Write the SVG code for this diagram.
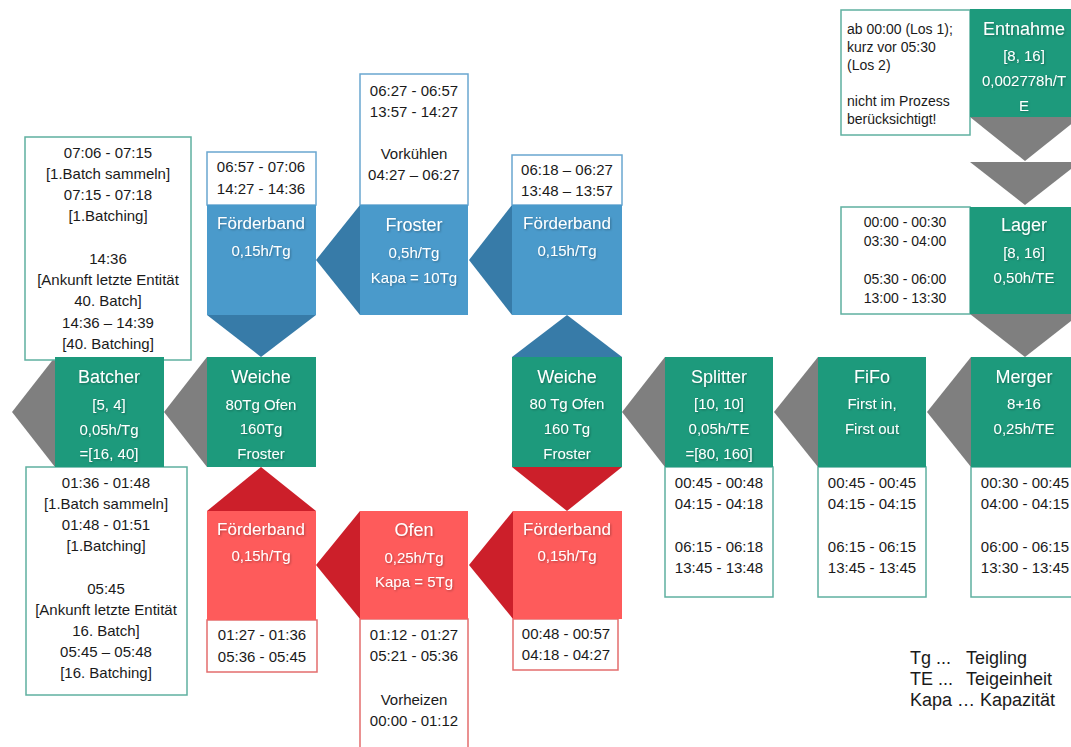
<svg xmlns="http://www.w3.org/2000/svg" width="1071" height="747" viewBox="0 0 1071 747">
  <defs>
    <filter id="txtShadow" x="-10%" y="-30%" width="120%" height="160%">
      <feDropShadow dx="1" dy="1" stdDeviation="0.8" flood-color="#000" flood-opacity="0.3"/>
    </filter>
  </defs>
  <style>
    text { font-family: "Liberation Sans", Arial, sans-serif; }
    .green { fill: #1d9a7c; }
    .blue { fill: #4a9acb; }
    .red { fill: #fe5b5b; }
    .arrGrey { fill: #7f7f7f; }
    .arrBlue { fill: #377ba8; }
    .arrRed { fill: #cc1f2a; }
    .noteG { fill: #ffffff; stroke: #5fb0a0; stroke-width: 1.5; }
    .noteB { fill: #ffffff; stroke: #6aa7d0; stroke-width: 1.5; }
    .noteR { fill: #ffffff; stroke: #e36d6d; stroke-width: 1.5; }
    .ttl { fill: #ffffff; font-size: 18px; text-anchor: middle; filter: url(#txtShadow); }
    .sub { fill: #ffffff; font-size: 15px; text-anchor: middle; filter: url(#txtShadow); }
    .nt { fill: #1a1a1a; font-size: 15px; text-anchor: middle; }
    .nts { fill: #1a1a1a; font-size: 14px; }
    .leg { fill: #1a1a1a; font-size: 18px; }
  </style>

  <rect x="0" y="0" width="1071" height="747" fill="#ffffff"/>

  <!-- flow arrows between the process blocks -->
  <g id="connectors">
    <polygon class="arrGrey" points="970,117 1025,161 1080,117"/>
    <polygon class="arrGrey" points="970,162 1025,205 1080,162"/>
    <polygon class="arrGrey" points="970,314 1025,357 1080,314"/>
    <polygon class="arrGrey" points="971,357 927,412 971,467"/>
    <polygon class="arrGrey" points="818,357 774,412 818,467"/>
    <polygon class="arrGrey" points="665,357 622,412 665,467"/>
    <polygon class="arrBlue" points="512,357 567,315 622,357"/>
    <polygon class="arrBlue" points="512,205 469,260 512,315"/>
    <polygon class="arrBlue" points="360,205 316,260 360,315"/>
    <polygon class="arrBlue" points="207,315 261,357 316,315"/>
    <polygon class="arrRed" points="512,467 567,511 622,467"/>
    <polygon class="arrRed" points="513,511 469,565 513,619"/>
    <polygon class="arrRed" points="360,511 316,565 360,619"/>
    <polygon class="arrRed" points="207,511 261,467 316,511"/>
    <polygon class="arrGrey" points="207,357 164,412 207,467"/>
    <polygon class="arrGrey" points="55,357 12,412 55,467"/>
  </g>

  <g id="entnahme">
    <rect class="noteG" x="841" y="10" width="129" height="125"/>
    <text class="nts" x="847" y="34">ab 00:00 (Los 1);</text>
    <text class="nts" x="847" y="52">kurz vor 05:30</text>
    <text class="nts" x="847" y="70">(Los 2)</text>
    <text class="nts" x="847" y="106">nicht im Prozess</text>
    <text class="nts" x="847" y="124">berücksichtigt!</text>
    <rect class="green" x="970" y="9" width="110" height="108"/>
    <text class="ttl" x="1024" y="35">Entnahme</text>
    <text class="sub" x="1024" y="61">[8, 16]</text>
    <text class="sub" x="1024" y="86">0,002778h/T</text>
    <text class="sub" x="1024" y="111">E</text>
  </g>

  <g id="lager">
    <rect class="noteG" x="841" y="207" width="129" height="107"/>
    <text class="nts" x="905" y="227" text-anchor="middle">00:00 - 00:30</text>
    <text class="nts" x="905" y="246" text-anchor="middle">03:30 - 04:00</text>
    <text class="nts" x="905" y="284" text-anchor="middle">05:30 - 06:00</text>
    <text class="nts" x="905" y="303" text-anchor="middle">13:00 - 13:30</text>
    <rect class="green" x="970" y="207" width="110" height="107"/>
    <text class="ttl" x="1024" y="231">Lager</text>
    <text class="sub" x="1024" y="258">[8, 16]</text>
    <text class="sub" x="1024" y="283">0,50h/TE</text>
  </g>

  <g id="merger">
    <rect class="noteG" x="971" y="467" width="110" height="130"/>
    <text class="nt" x="1025" y="488">00:30 - 00:45</text>
    <text class="nt" x="1025" y="509">04:00 - 04:15</text>
    <text class="nt" x="1025" y="552">06:00 - 06:15</text>
    <text class="nt" x="1025" y="573">13:30 - 13:45</text>
    <rect class="green" x="971" y="357" width="110" height="110"/>
    <text class="ttl" x="1024" y="383">Merger</text>
    <text class="sub" x="1024" y="409">8+16</text>
    <text class="sub" x="1024" y="434">0,25h/TE</text>
  </g>

  <g id="fifo">
    <rect class="noteG" x="818" y="467" width="108" height="130"/>
    <text class="nt" x="872" y="488">00:45 - 00:45</text>
    <text class="nt" x="872" y="509">04:15 - 04:15</text>
    <text class="nt" x="872" y="552">06:15 - 06:15</text>
    <text class="nt" x="872" y="573">13:45 - 13:45</text>
    <rect class="green" x="818" y="357" width="108" height="110"/>
    <text class="ttl" x="872" y="383">FiFo</text>
    <text class="sub" x="872" y="409">First in,</text>
    <text class="sub" x="872" y="434">First out</text>
  </g>

  <g id="splitter">
    <rect class="noteG" x="665" y="467" width="108" height="130"/>
    <text class="nt" x="719" y="488">00:45 - 00:48</text>
    <text class="nt" x="719" y="509">04:15 - 04:18</text>
    <text class="nt" x="719" y="552">06:15 - 06:18</text>
    <text class="nt" x="719" y="573">13:45 - 13:48</text>
    <rect class="green" x="665" y="357" width="108" height="110"/>
    <text class="ttl" x="719" y="383">Splitter</text>
    <text class="sub" x="719" y="409">[10, 10]</text>
    <text class="sub" x="719" y="434">0,05h/TE</text>
    <text class="sub" x="719" y="459">=[80, 160]</text>
  </g>

  <g id="weiche-rechts">
    <rect class="green" x="512" y="357" width="110" height="110"/>
    <text class="ttl" x="567" y="383">Weiche</text>
    <text class="sub" x="567" y="409">80 Tg Ofen</text>
    <text class="sub" x="567" y="434">160 Tg</text>
    <text class="sub" x="567" y="459">Froster</text>
  </g>

  <g id="foerderband-blau-rechts">
    <rect class="noteB" x="512" y="155" width="110" height="50"/>
    <text class="nt" x="567" y="175">06:18 – 06:27</text>
    <text class="nt" x="567" y="196">13:48 – 13:57</text>
    <rect class="blue" x="512" y="205" width="110" height="110"/>
    <text class="ttl" x="567" y="229" style="font-size:17px">Förderband</text>
    <text class="sub" x="567" y="256">0,15h/Tg</text>
  </g>

  <g id="froster">
    <rect class="noteB" x="360" y="74" width="108" height="131"/>
    <text class="nt" x="414" y="96">06:27 - 06:57</text>
    <text class="nt" x="414" y="117">13:57 - 14:27</text>
    <text class="nt" x="414" y="159">Vorkühlen</text>
    <text class="nt" x="414" y="180">04:27 – 06:27</text>
    <rect class="blue" x="360" y="205" width="108" height="110"/>
    <text class="ttl" x="414" y="231">Froster</text>
    <text class="sub" x="414" y="258">0,5h/Tg</text>
    <text class="sub" x="414" y="283">Kapa = 10Tg</text>
  </g>

  <g id="foerderband-blau-links">
    <rect class="noteB" x="207" y="152" width="109" height="53"/>
    <text class="nt" x="261" y="172">06:57 - 07:06</text>
    <text class="nt" x="261" y="194">14:27 - 14:36</text>
    <rect class="blue" x="207" y="205" width="109" height="110"/>
    <text class="ttl" x="261" y="229" style="font-size:17px">Förderband</text>
    <text class="sub" x="261" y="256">0,15h/Tg</text>
  </g>

  <g id="weiche-links">
    <rect class="green" x="207" y="357" width="109" height="110"/>
    <text class="ttl" x="261" y="383">Weiche</text>
    <text class="sub" x="261" y="410">80Tg Ofen</text>
    <text class="sub" x="261" y="434">160Tg</text>
    <text class="sub" x="261" y="459">Froster</text>
  </g>

  <g id="batcher">
    <rect class="noteG" x="25" y="137" width="166" height="223"/>
    <text class="nt" x="108" y="158">07:06 - 07:15</text>
    <text class="nt" x="108" y="179">[1.Batch sammeln]</text>
    <text class="nt" x="108" y="200">07:15 - 07:18</text>
    <text class="nt" x="108" y="221">[1.Batching]</text>
    <text class="nt" x="108" y="264">14:36</text>
    <text class="nt" x="108" y="285">[Ankunft letzte Entität</text>
    <text class="nt" x="108" y="306">40. Batch]</text>
    <text class="nt" x="108" y="328">14:36 – 14:39</text>
    <text class="nt" x="108" y="349">[40. Batching]</text>
    <rect class="noteG" x="26" y="467" width="161" height="228"/>
    <text class="nt" x="106" y="488">01:36 - 01:48</text>
    <text class="nt" x="106" y="509">[1.Batch sammeln]</text>
    <text class="nt" x="106" y="530">01:48 - 01:51</text>
    <text class="nt" x="106" y="551">[1.Batching]</text>
    <text class="nt" x="106" y="594">05:45</text>
    <text class="nt" x="106" y="615">[Ankunft letzte Entität</text>
    <text class="nt" x="106" y="636">16. Batch]</text>
    <text class="nt" x="106" y="657">05:45 – 05:48</text>
    <text class="nt" x="106" y="678">[16. Batching]</text>
    <rect class="green" x="55" y="357" width="109" height="110"/>
    <text class="ttl" x="109" y="383">Batcher</text>
    <text class="sub" x="109" y="410">[5, 4]</text>
    <text class="sub" x="109" y="435">0,05h/Tg</text>
    <text class="sub" x="109" y="459">=[16, 40]</text>
  </g>

  <g id="foerderband-rot-rechts">
    <rect class="noteR" x="513" y="619" width="105" height="51"/>
    <text class="nt" x="566" y="639">00:48 - 00:57</text>
    <text class="nt" x="566" y="660">04:18 - 04:27</text>
    <rect class="red" x="513" y="511" width="109" height="108"/>
    <text class="ttl" x="567" y="535" style="font-size:17px">Förderband</text>
    <text class="sub" x="567" y="561">0,15h/Tg</text>
  </g>

  <g id="ofen">
    <rect class="noteR" x="360" y="619" width="108" height="135"/>
    <text class="nt" x="414" y="640">01:12 - 01:27</text>
    <text class="nt" x="414" y="661">05:21 - 05:36</text>
    <text class="nt" x="414" y="705">Vorheizen</text>
    <text class="nt" x="414" y="726">00:00 - 01:12</text>
    <rect class="red" x="360" y="511" width="108" height="108"/>
    <text class="ttl" x="414" y="536">Ofen</text>
    <text class="sub" x="414" y="563">0,25h/Tg</text>
    <text class="sub" x="414" y="587">Kapa = 5Tg</text>
  </g>

  <g id="foerderband-rot-links">
    <rect class="noteR" x="207" y="620" width="110" height="52"/>
    <text class="nt" x="262" y="640">01:27 - 01:36</text>
    <text class="nt" x="262" y="662">05:36 - 05:45</text>
    <rect class="red" x="207" y="511" width="109" height="109"/>
    <text class="ttl" x="261" y="535" style="font-size:17px">Förderband</text>
    <text class="sub" x="261" y="561">0,15h/Tg</text>
  </g>

  <g id="legende">
    <text class="leg" x="910" y="664">Tg ...</text>
    <text class="leg" x="966" y="664">Teigling</text>
    <text class="leg" x="910" y="685">TE ...</text>
    <text class="leg" x="966" y="685">Teigeinheit</text>
    <text class="leg" x="910" y="706">Kapa … Kapazität</text>
  </g>
</svg>
